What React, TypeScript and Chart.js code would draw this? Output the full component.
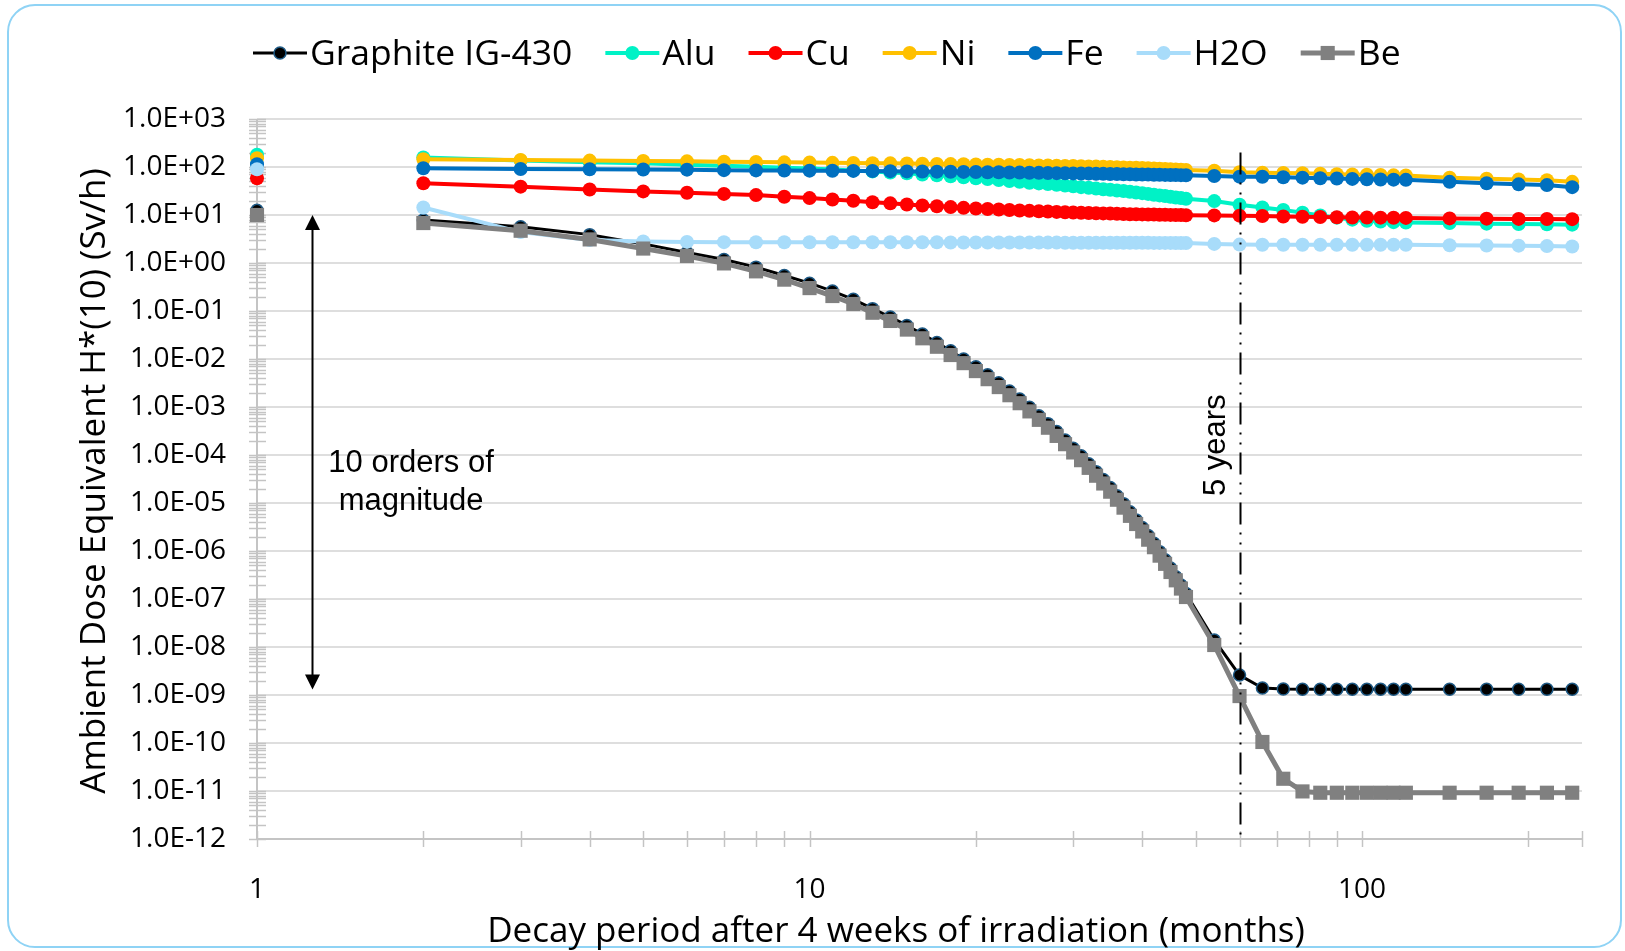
import React, { useEffect, useRef } from 'react';
import { Chart, registerables } from 'chart.js';

Chart.register(...registerables);

// ---------------- data ----------------
const MONTHS = [1, 2, 3, 4, 5, 6, 7, 8, 9, 10, 11, 12, 13, 14, 15, 16, 17, 18, 19, 20, 21, 22, 23, 24,
  25, 26, 27, 28, 29, 30, 31, 32, 33, 34, 35, 36, 37, 38, 39, 40, 41, 42, 43, 44, 45, 46, 47, 48,
  54, 60, 66, 72, 78, 84, 90, 96, 102, 108, 114, 120, 144, 168, 192, 216, 240];

const GRAPHITE = [12.5, 7.9, 5.7, 3.9, 2.5, 1.65, 1.18, 0.82, 0.55, 0.38, 0.26, 0.175,
  0.112, 0.075, 0.050, 0.033, 0.022, 0.0148, 0.0100, 0.0069, 0.0047, 0.0032, 0.00215, 0.00147,
  9.9e-4, 6.6e-4, 4.5e-4, 3.1e-4, 2.05e-4, 1.38e-4, 9.6e-5, 6.6e-5, 4.5e-5, 3.1e-5, 2.1e-5, 1.42e-5,
  9.7e-6, 6.6e-6, 4.45e-6, 3.1e-6, 2.1e-6, 1.45e-6, 9.7e-7, 6.6e-7, 4.4e-7, 2.9e-7, 1.95e-7, 1.3e-7,
  1.4e-8, 2.6e-9, 1.4e-9, 1.33e-9, 1.32e-9, 1.32e-9, 1.32e-9, 1.32e-9, 1.32e-9, 1.32e-9, 1.32e-9, 1.32e-9,
  1.32e-9, 1.32e-9, 1.32e-9, 1.32e-9, 1.32e-9];

const ALU = [180, 158, 136, 126, 119, 112, 106, 101, 97, 93, 89, 85,
  81, 77, 74, 70, 67, 64, 61, 58, 56, 53.5, 51, 49,
  47, 45.5, 44, 42.5, 41, 39.5, 38, 37, 35.5, 34.5, 33.5, 32.5,
  31.5, 30.5, 29.5, 28.5, 27.5, 26.5, 25.6, 24.8, 24, 23.2, 22.5, 21.8,
  19.5, 16.3, 14.4, 12.7, 11.2, 9.8, 8.8, 8.0, 7.6, 7.3, 7.1, 7.0,
  6.8, 6.6, 6.5, 6.4, 6.3];

const CU = [58, 46, 39, 34, 31, 29, 27.5, 26, 24, 22.5, 21, 19.8,
  18.5, 17.5, 16.6, 15.8, 15.2, 14.6, 14.1, 13.7, 13.3, 13.0, 12.7, 12.4,
  12.2, 12.0, 11.8, 11.6, 11.4, 11.3, 11.1, 11.0, 10.9, 10.8, 10.7, 10.6,
  10.5, 10.4, 10.35, 10.3, 10.25, 10.2, 10.15, 10.1, 10.05, 10.0, 9.95, 9.9,
  9.8, 9.7, 9.5, 9.3, 9.2, 9.1, 9.0, 8.9, 8.85, 8.8, 8.75, 8.7,
  8.5, 8.4, 8.3, 8.25, 8.2];

const NI = [152, 145, 140, 136, 134, 131, 129, 127, 125, 123.5, 122, 121,
  120, 119, 118, 117, 116, 115, 114, 113, 112, 111, 110.5, 110,
  109, 108, 107.5, 106.5, 105.5, 105, 104, 103, 102, 101, 100, 99,
  98, 97, 96, 95, 94, 93, 92, 91, 90, 89, 88, 87,
  84, 78, 76, 75, 74, 72.5, 71, 70, 69, 68, 67, 66.5,
  60, 57, 55, 53, 49];

const FE = [114, 94, 91, 90, 89, 88, 86, 85, 84.5, 84, 83.5, 83,
  82.5, 82, 81, 80.5, 80, 79.5, 79, 78.5, 78, 77.5, 77, 76.5,
  76, 75.5, 75, 74.5, 74, 73.5, 73, 72.8, 72.5, 72, 71.6, 71.2,
  70.8, 70.4, 70, 69.7, 69.4, 69.1, 68.8, 68.5, 68.2, 67.9, 67.6, 67.3,
  65, 63, 62.5, 61, 60, 58.5, 57.5, 56.5, 55.5, 55, 54.5, 54,
  49, 46, 43.5, 42, 38];

const H2O = [90, 14.3, 4.4, 3.0, 2.8, 2.75, 2.72, 2.7, 2.7, 2.7, 2.7, 2.7,
  2.7, 2.7, 2.7, 2.7, 2.7, 2.68, 2.68, 2.68, 2.68, 2.67, 2.67, 2.67,
  2.66, 2.66, 2.66, 2.66, 2.65, 2.65, 2.65, 2.65, 2.65, 2.64, 2.64, 2.64,
  2.64, 2.63, 2.63, 2.63, 2.63, 2.62, 2.62, 2.62, 2.62, 2.61, 2.61, 2.6,
  2.5, 2.42, 2.4, 2.4, 2.4, 2.4, 2.4, 2.4, 2.4, 2.4, 2.4, 2.4,
  2.35, 2.32, 2.3, 2.25, 2.2];

const BE = [10, 6.8, 4.7, 3.1, 2.0, 1.4, 0.98, 0.67, 0.45, 0.30, 0.205, 0.14,
  0.092, 0.062, 0.041, 0.027, 0.018, 0.0121, 0.0082, 0.0056, 0.0038, 0.0026, 0.00176, 0.0012,
  8.1e-4, 5.4e-4, 3.7e-4, 2.5e-4, 1.68e-4, 1.13e-4, 7.8e-5, 5.4e-5, 3.7e-5, 2.55e-5, 1.72e-5, 1.17e-5,
  8.0e-6, 5.4e-6, 3.65e-6, 2.55e-6, 1.72e-6, 1.2e-6, 8.0e-7, 5.4e-7, 3.65e-7, 2.45e-7, 1.65e-7, 1.1e-7,
  1.1e-8, 9.5e-10, 1.05e-10, 1.8e-11, 9.8e-12, 9.2e-12, 9.2e-12, 9.2e-12, 9.2e-12, 9.2e-12, 9.2e-12, 9.2e-12,
  9.2e-12, 9.2e-12, 9.2e-12, 9.2e-12, 9.2e-12];

const SERIES_NAMES = ['Graphite IG-430', 'Alu', 'Cu', 'Ni', 'Fe', 'H2O', 'Be'];

// axes
const X_MIN = 1;
const X_MAX = 250;
const X_LABELS = [1, 10, 100];
const Y_MIN_EXP = -12;
const Y_MAX_EXP = 3;

// titles / annotations
const X_TITLE = 'Decay period after 4 weeks of irradiation (months)';
const Y_TITLE = 'Ambient Dose Equivalent H*(10) (Sv/h)';
const FIVE_YEARS_MONTH = 60;
const FIVE_YEARS_TOP = 200;
const FIVE_YEARS_LABEL = '5 years';
const FIVE_YEARS_LABEL_Y = 1.6e-4;
const ARROW_MONTH = 1.26;
const ARROW_TOP = 10;
const ARROW_BOTTOM = 1.3e-9;
const ARROW_TEXT = ['10 orders of', 'magnitude'];
const ARROW_TEXT_MONTH = 1.9;
const ARROW_TEXT_Y = [4.4e-5, 7.1e-6];

// ---------------- styles ----------------
const FONT = "'Open Sans', 'Noto Sans', sans-serif";
const ARIAL = "'Liberation Sans', Arial, sans-serif";

const STYLES = [
  { color: '#000000', width: 3, radius: 6, bg: '#000000', pbColor: '#1f5a85', pbWidth: 1.5, style: 'circle' },
  { color: '#00f2c6', width: 4, radius: 7, bg: '#00f2c6', pbColor: '#00f2c6', pbWidth: 0, style: 'circle' },
  { color: '#ff0000', width: 4, radius: 7, bg: '#ff0000', pbColor: '#ff0000', pbWidth: 0, style: 'circle' },
  { color: '#ffc000', width: 4, radius: 7, bg: '#ffc000', pbColor: '#ffc000', pbWidth: 0, style: 'circle' },
  { color: '#0070c0', width: 4, radius: 7, bg: '#0070c0', pbColor: '#0070c0', pbWidth: 0, style: 'circle' },
  { color: '#a8dcfa', width: 4, radius: 7, bg: '#a8dcfa', pbColor: '#a8dcfa', pbWidth: 0, style: 'circle' },
  { color: '#808080', width: 5, radius: 10, bg: '#808080', pbColor: '#808080', pbWidth: 0, style: 'rect' },
];

const SERIES_VALUES = [GRAPHITE, ALU, CU, NI, FE, H2O, BE];

function isPow10(v: number) {
  const l = Math.log10(v);
  return Math.abs(l - Math.round(l)) < 1e-9;
}
function expLabel(v: number) {
  const e = Math.round(Math.log10(v));
  return `1.0E${e < 0 ? '-' : '+'}${String(Math.abs(e)).padStart(2, '0')}`;
}

const Y_TICKS: number[] = (() => {
  const t: number[] = [];
  for (let e = Y_MIN_EXP; e < Y_MAX_EXP; e++) for (let k = 1; k <= 9; k++) t.push(Number(`${k}e${e}`));
  t.push(Number(`1e${Y_MAX_EXP}`));
  return t;
})();
const X_TICKS: number[] = (() => {
  const t: number[] = [];
  for (let e = 0; e < 3; e++) for (let k = 1; k <= 9; k++) {
    const v = Number(`${k}e${e}`);
    if (v <= X_MAX) t.push(v);
  }
  if (t[t.length - 1] !== X_MAX) t.push(X_MAX);
  return t;
})();

function drawMarker(ctx: CanvasRenderingContext2D, st: any, x: number, y: number) {
  ctx.save();
  ctx.fillStyle = st.bg;
  ctx.strokeStyle = st.pbColor;
  ctx.lineWidth = st.pbWidth;
  ctx.beginPath();
  if (st.style === 'rect') {
    const s = st.radius * Math.SQRT1_2;
    ctx.rect(x - s, y - s, 2 * s, 2 * s);
  } else {
    ctx.arc(x, y, st.radius, 0, Math.PI * 2);
  }
  ctx.fill();
  if (st.pbWidth) ctx.stroke();
  ctx.restore();
}

const axesPlugin = {
  id: 'excelAxes',
  beforeDatasetsDraw(chart: any) {
    const { ctx, chartArea } = chart;
    const xs = chart.scales.x;
    const ys = chart.scales.y;
    ctx.save();
    ctx.strokeStyle = '#c4c4c4';
    ctx.lineWidth = 1.5;
    ys.ticks.forEach((t: any) => {
      const py = Math.round(ys.getPixelForValue(t.value)) + 0.5;
      ctx.beginPath();
      ctx.moveTo(chartArea.left - 8, py);
      ctx.lineTo(chartArea.left + 9, py);
      ctx.stroke();
    });
    xs.ticks.forEach((t: any) => {
      const px = Math.round(xs.getPixelForValue(t.value)) + 0.5;
      ctx.beginPath();
      ctx.moveTo(px, chartArea.bottom - 8);
      ctx.lineTo(px, chartArea.bottom + 8);
      ctx.stroke();
    });
    ctx.lineWidth = 2;
    ctx.strokeStyle = '#c4c4c4';
    ctx.beginPath();
    ctx.moveTo(chartArea.left, chartArea.top);
    ctx.lineTo(chartArea.left, chartArea.bottom);
    ctx.lineTo(chartArea.right, chartArea.bottom);
    ctx.stroke();
    ctx.restore();
  },
};

const annotationPlugin = {
  id: 'excelAnnotations',
  afterDatasetsDraw(chart: any) {
    const { ctx, chartArea } = chart;
    const xs = chart.scales.x;
    const ys = chart.scales.y;
    ctx.save();
    // 5 years dash-dot-dot line
    const lx = Math.round(xs.getPixelForValue(FIVE_YEARS_MONTH)) + 0.5;
    ctx.strokeStyle = '#000';
    ctx.lineWidth = 2;
    ctx.setLineDash([22, 8, 2, 8, 2, 8]);
    ctx.beginPath();
    ctx.moveTo(lx, ys.getPixelForValue(FIVE_YEARS_TOP));
    ctx.lineTo(lx, chartArea.bottom);
    ctx.stroke();
    ctx.setLineDash([]);
    // 5 years label
    ctx.save();
    ctx.translate(lx - 16, ys.getPixelForValue(FIVE_YEARS_LABEL_Y));
    ctx.rotate(-Math.PI / 2);
    ctx.font = `31px ${ARIAL}`;
    ctx.fillStyle = '#000';
    ctx.textAlign = 'center';
    ctx.textBaseline = 'alphabetic';
    ctx.fillText(FIVE_YEARS_LABEL, 0, 0);
    ctx.restore();
    // double arrow
    const ax = Math.round(xs.getPixelForValue(ARROW_MONTH)) + 0.5;
    const aTop = ys.getPixelForValue(ARROW_TOP);
    const aBot = ys.getPixelForValue(ARROW_BOTTOM);
    const hl = 15, hw = 7.5;
    ctx.lineWidth = 2;
    ctx.beginPath();
    ctx.moveTo(ax, aTop + hl - 2);
    ctx.lineTo(ax, aBot - hl + 2);
    ctx.stroke();
    ctx.fillStyle = '#000';
    ctx.beginPath();
    ctx.moveTo(ax, aTop);
    ctx.lineTo(ax - hw, aTop + hl);
    ctx.lineTo(ax + hw, aTop + hl);
    ctx.closePath();
    ctx.fill();
    ctx.beginPath();
    ctx.moveTo(ax, aBot);
    ctx.lineTo(ax - hw, aBot - hl);
    ctx.lineTo(ax + hw, aBot - hl);
    ctx.closePath();
    ctx.fill();
    // arrow text
    ctx.font = `31px ${ARIAL}`;
    ctx.textAlign = 'center';
    ctx.textBaseline = 'alphabetic';
    const tx = xs.getPixelForValue(ARROW_TEXT_MONTH);
    ARROW_TEXT.forEach((s, i) => ctx.fillText(s, tx, ys.getPixelForValue(ARROW_TEXT_Y[i])));
    ctx.restore();
  },
};

const legendTitlesPlugin = {
  id: 'excelLegendTitles',
  afterDraw(chart: any) {
    const { ctx, chartArea } = chart;
    ctx.save();
    // legend
    ctx.font = `35.5px ${FONT}`;
    ctx.fillStyle = '#000';
    ctx.textBaseline = 'alphabetic';
    ctx.textAlign = 'left';
    let x = 253;
    const yLine = 53;
    const yBase = 65;
    const lineLen = 54;
    SERIES_NAMES.forEach((name, i) => {
      const st = STYLES[i];
      ctx.strokeStyle = st.color;
      ctx.lineWidth = st.width;
      ctx.beginPath();
      ctx.moveTo(x, yLine);
      ctx.lineTo(x + lineLen, yLine);
      ctx.stroke();
      drawMarker(ctx, st, x + lineLen / 2, yLine);
      ctx.fillStyle = '#000';
      ctx.fillText(name, x + lineLen + 3, yBase);
      x += lineLen + 3 + ctx.measureText(name).width + 33;
    });
    // x title
    ctx.font = `35px ${FONT}`;
    ctx.textAlign = 'center';
    ctx.fillText(X_TITLE, 896, 942);
    // y title
    ctx.save();
    ctx.translate(105, (chartArea.top + chartArea.bottom) / 2 + 2);
    ctx.rotate(-Math.PI / 2);
    ctx.textAlign = 'center';
    ctx.fillText(Y_TITLE, 0, 0);
    ctx.restore();
    ctx.restore();
  },
};

export default function App() {
  const ref = useRef<HTMLCanvasElement>(null);
  useEffect(() => {
    if (!ref.current) return;
    const datasets = SERIES_NAMES.map((name, i) => {
      const st = STYLES[i];
      return {
        label: name,
        data: MONTHS.map((m, j) => ({ x: m, y: SERIES_VALUES[i][j] })),
        borderColor: st.color,
        backgroundColor: st.bg,
        borderWidth: st.width,
        pointRadius: st.radius,
        pointHoverRadius: st.radius,
        pointBackgroundColor: st.bg,
        pointBorderColor: st.pbColor,
        pointBorderWidth: st.pbWidth,
        pointStyle: st.style,
        tension: 0,
        borderJoinStyle: 'round',
        clip: false,
        order: SERIES_NAMES.length - i,
        segment: {
          borderColor: (c: any) => (c.p0DataIndex === 0 ? 'rgba(0,0,0,0)' : undefined),
        },
      };
    });
    const chart = new Chart(ref.current, {
      type: 'line',
      data: { datasets } as any,
      options: {
        responsive: false,
        animation: false,
        events: [],
        layout: { padding: { top: 119, right: 43, left: 0, bottom: 0 } },
        plugins: { legend: { display: false }, tooltip: { enabled: false }, title: { display: false } },
        scales: {
          x: {
            type: 'logarithmic',
            min: X_MIN,
            max: X_MAX,
            afterBuildTicks: (s: any) => {
              s.ticks = X_TICKS.map((v) => ({ value: v, major: isPow10(v) }));
            },
            afterFit: (s: any) => {
              s.height = 112;
            },
            grid: { display: false, drawTicks: false },
            border: { display: false },
            ticks: {
              autoSkip: false,
              maxRotation: 0,
              minRotation: 0,
              padding: 34,
              color: '#000',
              font: { family: FONT, size: 28 },
              callback: (v: any) => (X_LABELS.includes(Number(v)) ? String(v) : ''),
            },
          },
          y: {
            type: 'logarithmic',
            min: Number(`1e${Y_MIN_EXP}`),
            max: Number(`1e${Y_MAX_EXP}`),
            afterBuildTicks: (s: any) => {
              s.ticks = Y_TICKS.map((v) => ({ value: v, major: isPow10(v) }));
            },
            afterFit: (s: any) => {
              s.width = 257;
            },
            grid: {
              drawTicks: false,
              lineWidth: 2,
              color: (c: any) => (c.tick && isPow10(c.tick.value) ? '#dedede' : 'rgba(0,0,0,0)'),
            },
            border: { display: false },
            ticks: {
              autoSkip: false,
              padding: 31,
              color: '#000',
              font: { family: FONT, size: 28 },
              callback: (v: any) => (isPow10(Number(v)) ? expLabel(Number(v)) : ''),
            },
          },
        },
      } as any,
      plugins: [axesPlugin, annotationPlugin, legendTitlesPlugin],
    });
    return () => chart.destroy();
  }, []);

  return (
    <div style={{ position: 'absolute', left: 0, top: 0, width: 1625, height: 951, background: '#fff', overflow: 'hidden' }}>
      <div
        style={{
          position: 'absolute',
          left: 7,
          top: 4,
          width: 1615,
          height: 944,
          border: '2px solid #8fd3f5',
          borderRadius: 28,
          boxSizing: 'border-box',
        }}
      />
      <canvas ref={ref} width={1625} height={951} style={{ position: 'absolute', left: 0, top: 0, display: 'block' }} />
    </div>
  );
}
